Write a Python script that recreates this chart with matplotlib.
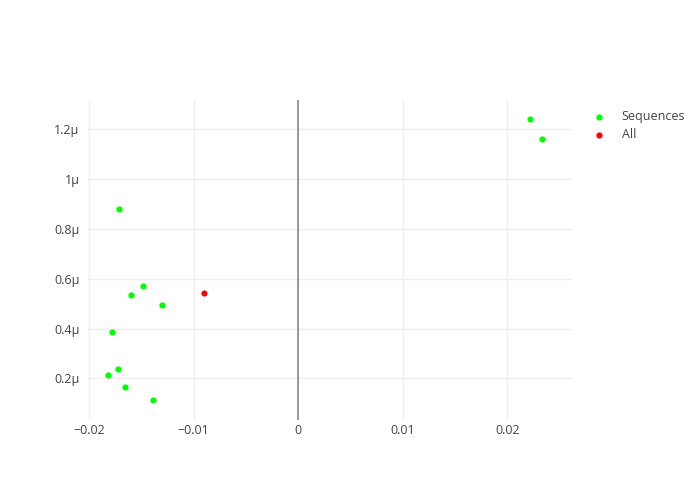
import matplotlib.pyplot as plt
from matplotlib.ticker import FuncFormatter, MultipleLocator

plt.rcParams['font.family'] = ['Open Sans', 'DejaVu Sans']

# data (y in units of 1e-6)
seq_x = [-0.01714, -0.01485, -0.01602, -0.01306, -0.01781, -0.0172, -0.01819, -0.01653, -0.01392, 0.02223, 0.02336]
seq_y = [0.881, 0.572, 0.534, 0.494, 0.384, 0.236, 0.213, 0.165, 0.113, 1.240, 1.160]
all_x = [-0.00902]
all_y = [0.544]

fig = plt.figure(figsize=(7, 5), dpi=100)
ax = fig.add_axes([88 / 700, 1 - 420 / 500, (572 - 88) / 700, 320 / 500])

ax.scatter(seq_x, seq_y, s=20, color='#00ff00', label='Sequences', zorder=3, linewidths=0)
ax.scatter(all_x, all_y, s=20, color='#ff0000', label='All', zorder=3, linewidths=0)

ax.set_xlim(-0.0201, 0.0262)
ax.set_ylim(0.0324, 1.318)
ax.axvline(0, color='#8a8a8a', lw=1.2, zorder=2)

ax.xaxis.set_major_locator(MultipleLocator(0.01))
ax.yaxis.set_major_locator(MultipleLocator(0.2))


def xfmt(v, pos):
    if abs(v) < 1e-9:
        return '0'
    return ('%g' % round(v, 4)).replace('-', '\u2212')


def yfmt(v, pos):
    return '%gµ' % round(v, 3)


ax.xaxis.set_major_formatter(FuncFormatter(xfmt))
ax.yaxis.set_major_formatter(FuncFormatter(yfmt))

ax.grid(True, color='#eeeeee', lw=1)
ax.set_axisbelow(True)
for s in ax.spines.values():
    s.set_visible(False)
ax.tick_params(length=0, labelsize=9, colors='#444444', pad=6)
ax.tick_params(axis='x', pad=3)

leg = ax.legend(loc='upper left', bbox_to_anchor=(1.02, 0.985), frameon=False,
                fontsize=9, handletextpad=0.8, labelspacing=0.45, borderaxespad=0,
                markerscale=1.0)
for t in leg.get_texts():
    t.set_color('#444444')

fig.savefig('out.png', dpi=100)
